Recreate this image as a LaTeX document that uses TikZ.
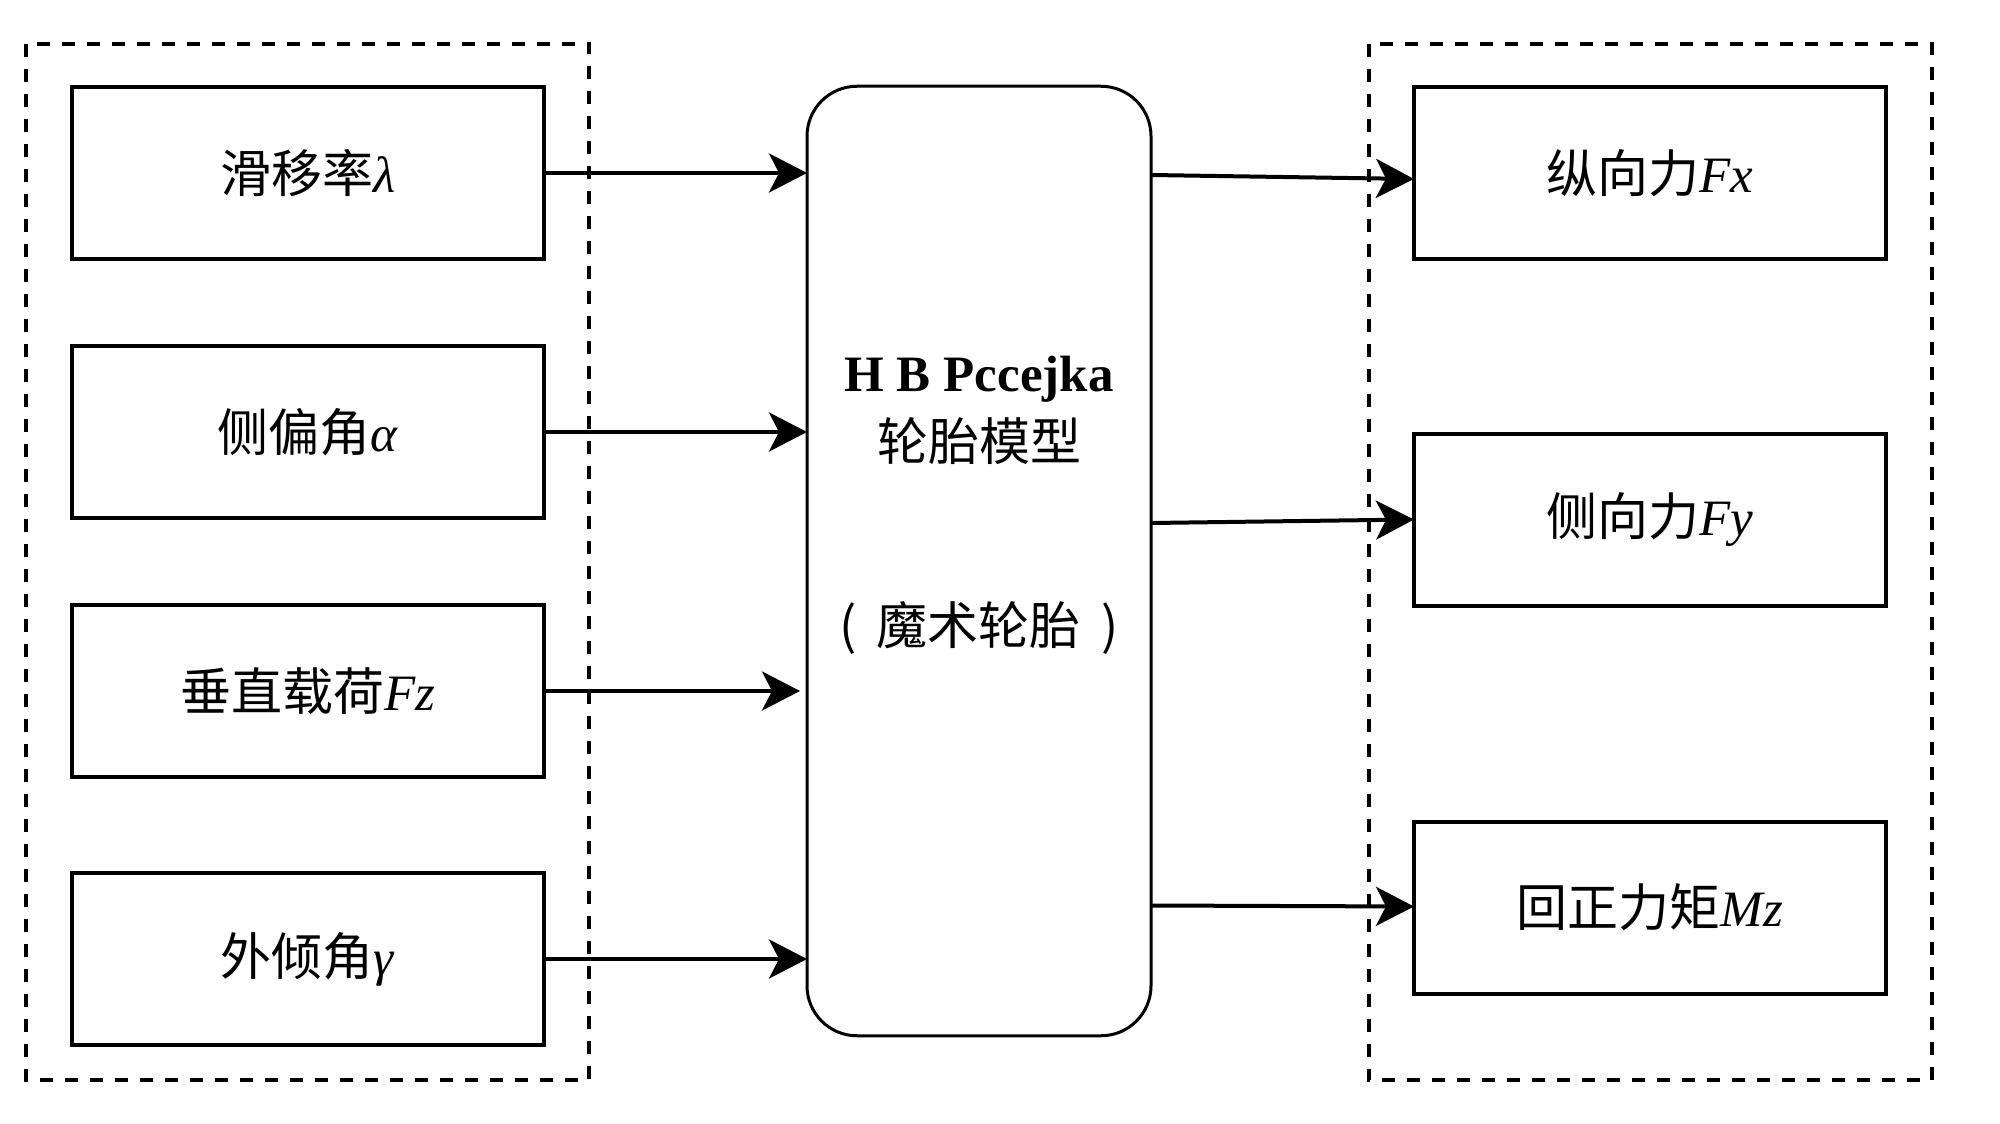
\documentclass[tikz,border=0pt]{standalone}
\usepackage{fontspec}
\setmainfont{Liberation Serif}
\newfontfamily\cjk{Noto Sans CJK SC}
\usetikzlibrary{arrows.meta}
\begin{document}
\begin{tikzpicture}[x=0.5pt,y=-0.5pt,
  every node/.style={font=\fontsize{25.5}{30}\selectfont, inner sep=0pt, outer sep=0pt},
  blockbox/.style={draw, line width=2pt, minimum width=236pt, minimum height=86pt},
  modelbox/.style={draw, line width=1.5pt, rounded corners=25pt, minimum width=172pt, minimum height=474.75pt},
  groupbox/.style={draw, line width=2pt, dash pattern=on 6.5pt off 6pt},
  flow/.style={line width=2pt, -{Stealth[length=19pt, width=19.5pt, inset=5pt]}},
]
\useasboundingbox (0,0) rectangle (2000,1123);
% dashed groups
\draw[groupbox] (26,43.7) rectangle (589,1080);
\draw[groupbox] (1368.5,43.7) rectangle (1932,1080);
% inputs
\node[blockbox] (in1) at (308,173) {{\cjk 滑移率}\textit{λ}};
\node[blockbox] (in2) at (308,432) {{\cjk 侧偏角}\textit{α}};
\node[blockbox] (in3) at (308,691) {{\cjk 垂直载荷}\textit{Fz}};
\node[blockbox] (in4) at (308,959) {{\cjk 外倾角}\textit{γ}};
% model
\node[modelbox] (m) at (979,561) {};
\node[anchor=base] (t1) at (979,391.5) {\textbf{H B Pccejka}};
\node (t2) at (979,441) {\cjk 轮胎模型};
\node (t3) at (979,628) {\cjk (\hspace{0.4em}魔术轮胎\hspace{0.4em})};
% outputs
\node[blockbox] (out1) at (1650,173) {{\cjk 纵向力}\textit{Fx}};
\node[blockbox] (out2) at (1650,519.5) {{\cjk 侧向力}\textit{Fy}};
\node[blockbox] (out3) at (1650,907.5) {{\cjk 回正力矩}\textit{Mz}};
% connectors
\draw[flow] (in1.east) -- (in1.east -| m.west);
\draw[flow] (in2.east) -- (in2.east -| m.west);
\draw[flow, shorten >=3.5pt] (in3.east) -- (in3.east -| m.west);
\draw[flow] (in4.east) -- (in4.east -| m.west);
\draw[flow] ([yshift=-1pt]m.east |- out1.west) -- ([yshift=-3pt]out1.west);
\draw[flow] ([yshift=-1.75pt]m.east |- out2.west) -- (out2.west);
\draw[flow] ([yshift=1pt]m.east |- out3.west) -- ([yshift=0.5pt]out3.west);
\end{tikzpicture}
\end{document}
